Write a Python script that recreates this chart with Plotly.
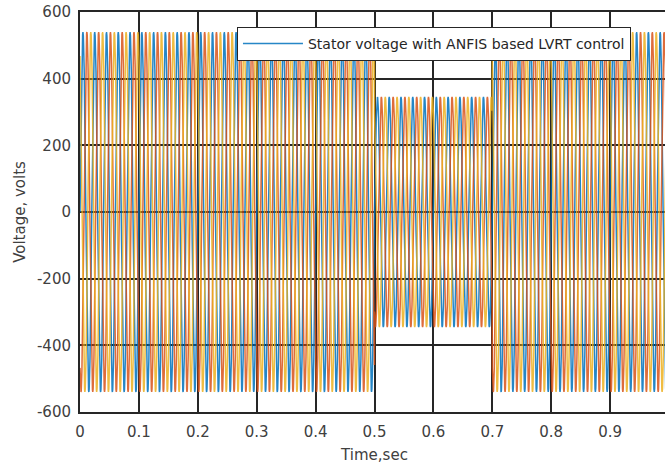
import numpy as np
import plotly.graph_objects as go

# ---- values ----
time_breaks = [0.0, 0.5, 0.7, 1.0]          # s, segment boundaries (sag 0.5-0.7 s)
segment_amplitudes = [540, 345, 540]        # V, peak stator voltage per segment
frequency_hz = 50
phase_shifts_deg = [0, -120, 120]
phase_colors = ["#0072BD", "#D95319", "#EDB120"]
legend_label = "Stator voltage with ANFIS based LVRT control"

x_tick_values = [0, 0.1, 0.2, 0.3, 0.4, 0.5, 0.6, 0.7, 0.8, 0.9, 1.0]
x_tick_labels = ["0", "0.1", "0.2", "0.3", "0.4", "0.5", "0.6", "0.7", "0.8", "0.9", "1"]
y_tick_values = [-600, -400, -200, 0, 200, 400, 600]
y_tick_labels = ["-600", "-400", "-200", "0", "200", "400", "600"]

# ---- build waveform ----
t = np.arange(0, 1.0 + 1e-9, 1e-4)
amp = np.empty_like(t)
for i in range(len(segment_amplitudes)):
    mask = (t >= time_breaks[i]) & (t <= time_breaks[i + 1])
    amp[mask] = segment_amplitudes[i]

fig = go.Figure()
for k, (ph, col) in enumerate(zip(phase_shifts_deg, phase_colors)):
    v = amp * np.sin(2 * np.pi * frequency_hz * t + np.deg2rad(ph))
    fig.add_trace(go.Scatter(
        x=t, y=v, mode="lines",
        line=dict(color=col, width=1.5),
        opacity=0.85,
        name=legend_label, showlegend=(k == 0),
        hoverinfo="skip",
    ))

font_family = "DejaVu Sans"
fig.update_layout(
    width=680, height=464,
    margin=dict(l=80, r=11, t=12, b=52, autoexpand=False),
    plot_bgcolor="white", paper_bgcolor="white",
    font=dict(family=font_family, size=15, color="#404040"),
    showlegend=True,
    legend=dict(
        x=0.2665, y=0.9625, xanchor="left", yanchor="top",
        bgcolor="white", bordercolor="#262626", borderwidth=1,
        font=dict(family=font_family, size=14, color="#262626"),
        itemwidth=60, tracegroupgap=0,
    ),
    xaxis=dict(
        range=[0, 1.0], tickmode="array",
        tickvals=x_tick_values, ticktext=x_tick_labels,
        showgrid=True, gridcolor="#262626", gridwidth=1.6,
        showline=True, linecolor="#262626", linewidth=2, mirror=True,
        zeroline=False, ticks="", ticklabeloverflow="allow", automargin=False,
        ticklabelstandoff=5,
        title=dict(text="Time,sec", standoff=9, font=dict(size=15, color="#404040")),
    ),
    yaxis=dict(
        range=[-600, 600], tickmode="array",
        tickvals=y_tick_values, ticktext=y_tick_labels,
        showgrid=True, gridcolor="#262626", gridwidth=1.6,
        showline=True, linecolor="#262626", linewidth=2,
        zeroline=False, ticks="", ticklabeloverflow="allow", automargin=False,
        ticklabelstandoff=4,
        title=dict(text="Voltage, volts", standoff=8, font=dict(size=15, color="#404040")),
    ),
)

fig.write_html(
    "out.html",
    config={"displayModeBar": False},
    post_script="document.body.style.margin='0';document.body.style.overflow='hidden';",
)
